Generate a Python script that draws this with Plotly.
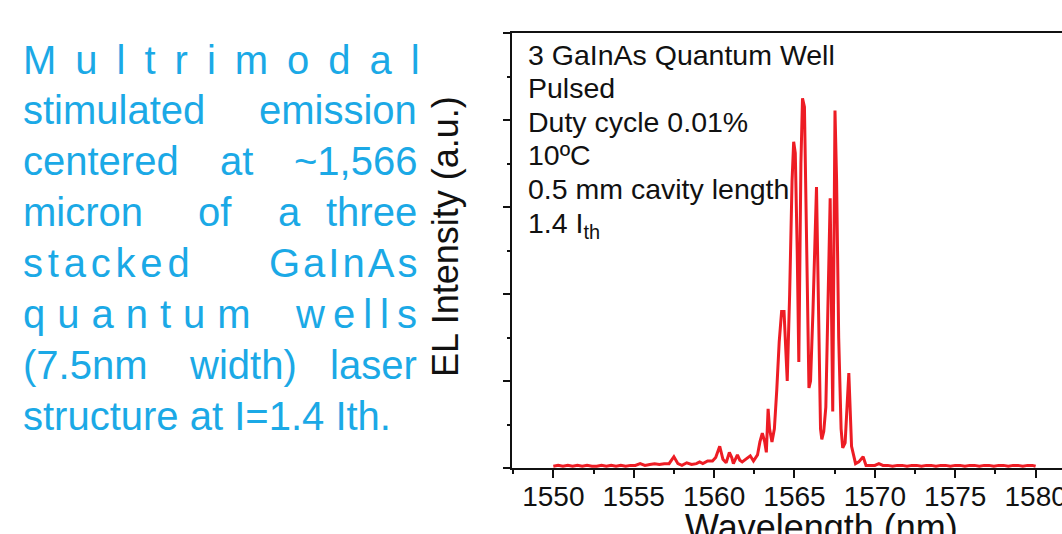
import plotly.graph_objects as go

# ---------------- data ----------------
wavelength_nm = [
    1550.0, 1550.3, 1550.6, 1550.9, 1551.2, 1551.5, 1551.8, 1552.1, 1552.4, 1552.7,
    1553.0, 1553.3, 1553.6, 1553.9, 1554.2, 1554.5, 1554.8, 1555.1, 1555.4, 1555.7,
    1556.0, 1556.3, 1556.6, 1556.9, 1557.2, 1557.5, 1557.75, 1558.0, 1558.3, 1558.6,
    1558.9, 1559.1, 1559.3, 1559.6, 1559.9, 1560.1, 1560.35, 1560.55, 1560.75, 1560.95,
    1561.1, 1561.2, 1561.45, 1561.6, 1561.75, 1562.0, 1562.25, 1562.45, 1562.7, 1562.85,
    1563.0, 1563.15, 1563.25, 1563.36, 1563.45, 1563.6, 1563.75, 1563.9, 1564.05, 1564.2,
    1564.35, 1564.45, 1564.55, 1564.7, 1564.85, 1564.95, 1565.05, 1565.17, 1565.27, 1565.4,
    1565.5, 1565.62, 1565.75, 1565.9, 1566.0, 1566.15, 1566.37, 1566.5, 1566.62, 1566.7,
    1566.82, 1566.95, 1567.1, 1567.22, 1567.38, 1567.52, 1567.62, 1567.75, 1567.9, 1568.0,
    1568.15, 1568.38, 1568.55, 1568.8, 1569.0, 1569.27, 1569.45, 1569.7, 1570.0, 1570.25,
    1570.5, 1570.8, 1571.1, 1571.4, 1571.7, 1572.0, 1572.3, 1572.6, 1572.9, 1573.2,
    1573.5, 1573.8, 1574.1, 1574.4, 1574.7, 1575.0, 1575.3, 1575.6, 1575.9, 1576.2,
    1576.5, 1576.8, 1577.1, 1577.4, 1577.7, 1578.0, 1578.3, 1578.6, 1578.9, 1579.2,
    1579.5, 1579.8, 1580.0,
]
el_intensity = [
    0.02, 0.03, 0.02, 0.03, 0.02, 0.03, 0.02, 0.03, 0.02, 0.02,
    0.03, 0.02, 0.03, 0.02, 0.03, 0.02, 0.03, 0.03, 0.05, 0.03,
    0.04, 0.05, 0.04, 0.05, 0.05, 0.13, 0.05, 0.03, 0.06, 0.04,
    0.05, 0.07, 0.05, 0.08, 0.08, 0.12, 0.25, 0.10, 0.06, 0.18,
    0.12, 0.05, 0.15, 0.09, 0.07, 0.10, 0.14, 0.08, 0.15, 0.30,
    0.40, 0.30, 0.18, 0.68, 0.45, 0.30, 0.45, 0.90, 1.45, 1.80,
    1.80, 1.40, 1.00, 2.00, 3.30, 3.75, 3.62, 2.50, 1.22, 3.50,
    4.25, 4.15, 2.60, 0.92, 1.00, 1.80, 3.23, 1.50, 0.45, 0.33,
    0.42, 0.70, 2.10, 3.10, 0.65, 4.11, 3.30, 1.50, 0.45, 0.23,
    0.29, 1.09, 0.25, 0.05, 0.07, 0.13, 0.03, 0.03, 0.03, 0.05,
    0.03, 0.03, 0.02, 0.03, 0.03, 0.02, 0.03, 0.03, 0.02, 0.03,
    0.03, 0.02, 0.03, 0.03, 0.02, 0.03, 0.03, 0.02, 0.03, 0.03,
    0.02, 0.03, 0.03, 0.02, 0.03, 0.03, 0.02, 0.03, 0.03, 0.02,
    0.03, 0.03, 0.02,
]

x_tick_values = [1550, 1555, 1560, 1565, 1570, 1575, 1580]
x_tick_labels = ["1550", "1555", "1560", "1565", "1570", "1575", "1580"]

info_lines = [
    "3 GaInAs Quantum Well",
    "Pulsed",
    "Duty cycle 0.01%",
    "10ºC",
    "0.5 mm cavity length",
    "1.4 I<sub>th</sub>",
]

# ---------------- layout geometry ----------------
W, H = 1062, 534
L, R, T, B = 512, 0, 33, 66
PW, PH = W - L - R, H - T - B


def px_x(px):
    return (px - L) / PW


def px_y(py):
    return (T + PH - py) / PH


fig = go.Figure()
fig.add_trace(go.Scatter(
    x=wavelength_nm, y=el_intensity, mode="lines",
    line=dict(color="#ED1C24", width=3), showlegend=False,
))

BLACK = "#111111"
ann = []

# info block inside the plot
for i, t in enumerate(info_lines):
    ann.append(dict(
        text=t, xref="paper", yref="paper", x=px_x(527), y=px_y(37.5 + 33.6 * i),
        xanchor="left", yanchor="top", showarrow=False, borderpad=0,
        font=dict(family="Liberation Sans, Arial", size=28.5, color=BLACK),
    ))

# axis titles as annotations (positioned like reference)
ann.append(dict(
    text="Wavelength (nm)", xref="paper", yref="paper", x=px_x(821.7), y=px_y(505.5),
    xanchor="center", yanchor="top", showarrow=False, borderpad=0,
    font=dict(family="Liberation Sans, Arial", size=36, color=BLACK),
))
ann.append(dict(
    text="EL Intensity (a.u.)", xref="paper", yref="paper", x=px_x(445.5), y=px_y(236.5),
    xanchor="center", yanchor="middle", textangle=-90, showarrow=False, borderpad=0,
    font=dict(family="Liberation Sans, Arial", size=36, color=BLACK),
))

# justified descriptive text on the left
BLUE = "#1BA9E6"
FS = 40
ASC = 0.905 * FS
words = [
    # (text, x_px, anchor, baseline_px)
    ('<span style="letter-spacing:19px">Multrimoda</span>l', 21.7, "left", 73.3),
    ("stimulated", 21.7, "left", 123.3),
    ("emission", 418.3, "right", 123.3),
    ("centered", 21.7, "left", 174.0),
    ("at", 236.7, "center", 174.0),
    ("~1,566", 418.3, "right", 174.0),
    ("micron", 21.7, "left", 225.0),
    ("of", 215.0, "center", 225.0),
    ("a", 289.2, "center", 225.0),
    ("three", 418.3, "right", 225.0),
    ('<span style="letter-spacing:4.8px">stacke</span>d', 21.7, "left", 276.0),
    ('<span style="letter-spacing:3px">GaInA</span>s', 418.3, "right", 276.0),
    ('<span style="letter-spacing:12px">quantu</span>m', 21.7, "left", 326.7),
    ('<span style="letter-spacing:8px">well</span>s', 418.3, "right", 326.7),
    ("(7.5nm", 21.7, "left", 378.3),
    ("width)", 243.3, "center", 378.3),
    ("laser", 418.3, "right", 378.3),
    ("structure at I=1.4 Ith.", 21.7, "left", 429.3),
]
for text, xp, anc, base in words:
    ann.append(dict(
        text=text, xref="paper", yref="paper", x=px_x(xp), y=px_y(base - ASC),
        xanchor=anc, yanchor="top", showarrow=False, borderpad=0,
        font=dict(family="Liberation Sans, Arial", size=FS, color=BLUE),
    ))

fig.update_layout(
    width=W, height=H, autosize=False,
    margin=dict(l=L, r=R, t=T, b=B, pad=0, autoexpand=False),
    paper_bgcolor="white", plot_bgcolor="white",
    annotations=ann,
    xaxis=dict(
        range=[1547.43, 1581.64], showgrid=False, zeroline=False, automargin=False,
        showline=True, linecolor=BLACK, linewidth=2, mirror=True,
        tickmode="array", tickvals=x_tick_values, ticktext=x_tick_labels,
        ticks="outside", ticklen=8, tickwidth=2, tickcolor=BLACK,
        ticklabeloverflow="allow", ticklabelstandoff=-6,
        tickfont=dict(family="Liberation Sans, Arial", size=28, color=BLACK),
        minor=dict(dtick=2.5, tick0=1547.5, ticks="outside", ticklen=3.5,
                   tickwidth=1.5, tickcolor=BLACK),
    ),
    yaxis=dict(
        range=[0, 5], showgrid=False, zeroline=False, showticklabels=False, automargin=False,
        showline=True, linecolor=BLACK, linewidth=2,
        dtick=1, tick0=0, ticks="outside", ticklen=7, tickwidth=1.5, tickcolor=BLACK,
        minor=dict(dtick=0.5, ticks="outside", ticklen=3.5, tickwidth=1.5, tickcolor=BLACK),
    ),
)

fig.write_html("out.html")
